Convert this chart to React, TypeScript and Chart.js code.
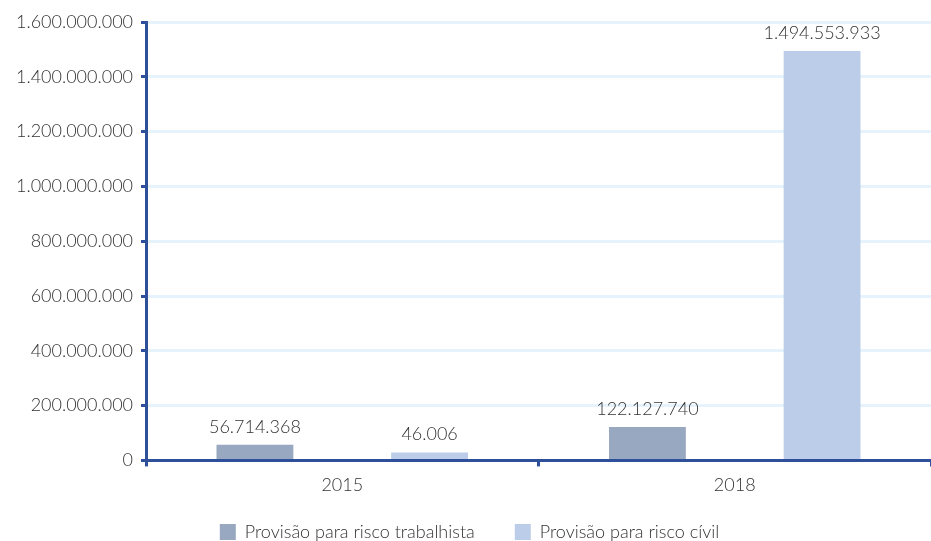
import React, { useEffect, useRef } from "react";
import { Chart, registerables } from "chart.js";

Chart.register(...registerables);

const categories = ["2015", "2018"];
const trabalhista = [56714368, 122127740];
const civil = [46006, 1494553933];
const seriesNames = ["Provisão para risco trabalhista", "Provisão para risco cívil"];
const yTicks = [0, 200000000, 400000000, 600000000, 800000000, 1000000000, 1200000000, 1400000000, 1600000000];

const FONT = "Lato";
const AXIS = "#2e4f9a";
const TEXT = "#333333";
const LEGEND_SHIFT = 19;
const LEGEND_LIFT = 2;

function fmt(v: number): string {
  return Math.round(v).toString().replace(/\B(?=(\d{3})+(?!\d))/g, ".");
}

const labelPlugin = {
  id: "valueLabels",
  afterDatasetsDraw(chart: any) {
    const ctx = chart.ctx;
    ctx.save();
    ctx.font = `300 18px ${FONT}`;
    ctx.fillStyle = TEXT;
    ctx.textAlign = "center";
    ctx.textBaseline = "middle";
    chart.data.datasets.forEach((ds: any, i: number) => {
      const meta = chart.getDatasetMeta(i);
      meta.data.forEach((bar: any, j: number) => {
        ctx.fillText(fmt(ds.data[j]), bar.x, bar.y - 18);
      });
    });
    ctx.restore();
  },
};

const legendSpacePlugin = {
  id: "legendSpace",
  beforeLayout(chart: any) {
    const lg = chart.legend;
    if (lg && !lg.__wrapped) {
      const orig = lg.fit.bind(lg);
      lg.fit = function () {
        orig();
        this.height -= LEGEND_SHIFT;
      };
      lg.__wrapped = true;
    }
  },
  afterLayout(chart: any) {
    const lg = chart.legend;
    if (lg) {
      lg.top -= LEGEND_SHIFT + LEGEND_LIFT;
      lg.height += LEGEND_SHIFT + LEGEND_LIFT;
    }
  },
};

export default function App() {
  const ref = useRef<HTMLCanvasElement>(null);
  useEffect(() => {
    if (!ref.current) return;
    const chart = new Chart(ref.current, {
      type: "bar",
      data: {
        labels: categories,
        datasets: [
          { label: seriesNames[0], data: trabalhista, backgroundColor: "#98a8c0" },
          { label: seriesNames[1], data: civil, backgroundColor: "#bccde9", minBarLength: 8 },
        ],
      },
      options: {
        animation: false,
        responsive: false,
        maintainAspectRatio: false,
        layout: { padding: { top: 22, right: 0, left: 8, bottom: -12 } },
        datasets: { bar: { categoryPercentage: 0.89, barPercentage: 0.44 } },
        plugins: {
          legend: {
            position: "bottom",
            labels: {
              boxWidth: 16,
              boxHeight: 16,
              padding: 40,
              color: TEXT,
              font: { family: FONT, size: 18, weight: "300" },
            },
          },
          tooltip: { enabled: false },
        },
        scales: {
          x: {
            grid: {
              drawOnChartArea: false,
              drawTicks: true,
              tickColor: AXIS,
              tickLength: 6,
              tickWidth: 3,
              offset: true,
            },
            border: { color: AXIS, width: 3 },
            ticks: { color: TEXT, font: { family: FONT, size: 18, weight: "300" }, padding: 8 },
          },
          y: {
            min: 0,
            max: 1600000000,
            afterBuildTicks: (axis: any) => {
              axis.ticks = yTicks.map((v) => ({ value: v }));
            },
            grid: {
              color: "#e6f3fc",
              lineWidth: 3,
              tickColor: AXIS,
              tickLength: 5,
              tickWidth: 3,
            },
            border: { color: AXIS, width: 3 },
            ticks: {
              color: TEXT,
              font: { family: FONT, size: 18, weight: "300" },
              padding: 8,
              callback: (v: any) => fmt(Number(v)),
            },
          },
        },
      },
      plugins: [labelPlugin, legendSpacePlugin],
    });
    return () => chart.destroy();
  }, []);
  return (
    <div style={{ position: "fixed", left: 0, top: 0, width: 931, height: 541 }}>
      <canvas ref={ref} width={931} height={541} style={{ width: 931, height: 541 }} />
    </div>
  );
}
